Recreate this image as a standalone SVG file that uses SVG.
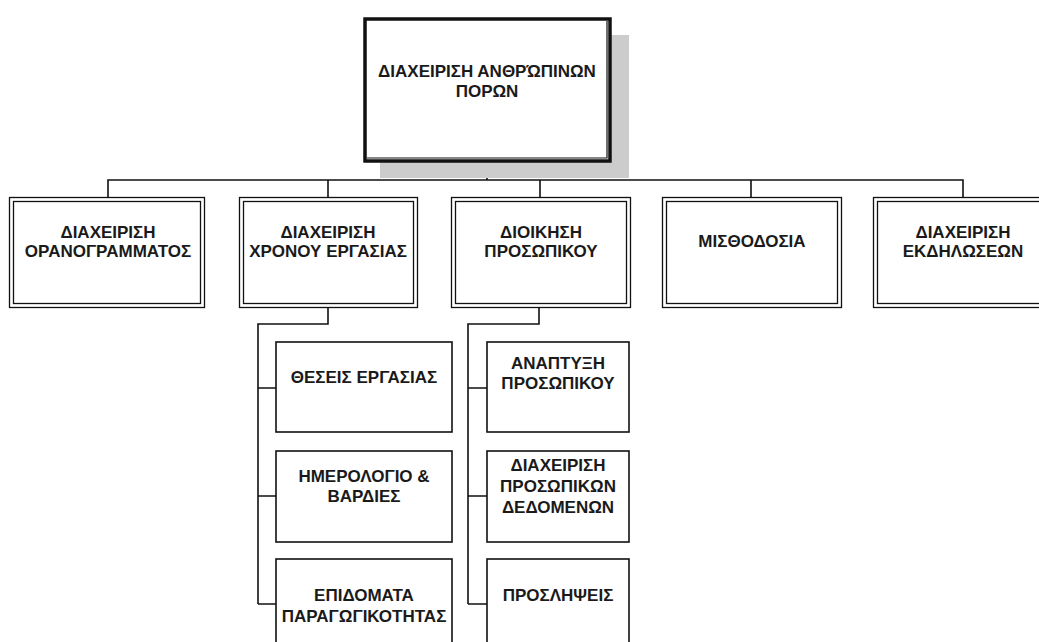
<svg xmlns="http://www.w3.org/2000/svg" width="1039" height="642" viewBox="0 0 1039 642">
<style>
.bx{fill:#fff;stroke:#111;stroke-width:1.3}
.sb{fill:#fff;stroke:#111;stroke-width:1.6}
.ln{fill:none;stroke:#111;stroke-width:1.6}
text{font-family:"Liberation Sans",Arial,sans-serif;font-size:17px;font-weight:bold;fill:#1a1a1a;text-anchor:middle}
</style>
<rect width="1039" height="642" fill="#fff"/>
<g id="connectors">
<path class="ln" d="M487,163 V180 M108,197 V180 H963 V197 M328,180 V197 M540,180 V197 M751,180 V197"/>
<path class="ln" d="M328,308 V324 H258 V604 M258,388 H276 M258,496 H276 M258,604 H276"/>
<path class="ln" d="M539,308 V324 H468 V604 M468,388 H487 M468,496 H487 M468,604 H487"/>
</g>
<g id="root">
<rect x="380" y="35" width="249" height="143" fill="#cccccc"/>
<rect x="365" y="19" width="245" height="142" fill="#fff" stroke="#111" stroke-width="3.5"/>
<path d="M367,158 H607 V21" fill="none" stroke="#111" stroke-width="1.2"/>
<text x="487" y="77">ΔΙΑΧΕΙΡΙΣΗ ΑΝΘΡΏΠΙΝΩΝ</text>
<text x="487" y="97">ΠΟΡΩΝ</text>
</g>
<g id="n1">
<rect class="bx" x="9.5" y="197.5" width="195" height="110"/>
<rect class="bx" x="13.5" y="201.5" width="187" height="102"/>
<text x="108" y="238">ΔΙΑΧΕΙΡΙΣΗ</text>
<text x="108" y="257">ΟΡΑΝΟΓΡΑΜΜΑΤΟΣ</text>
</g>
<g id="n2">
<rect class="bx" x="239.5" y="197.5" width="178" height="110"/>
<rect class="bx" x="243.5" y="201.5" width="170" height="102"/>
<text x="328" y="238">ΔΙΑΧΕΙΡΙΣΗ</text>
<text x="328" y="257">ΧΡΟΝΟΥ ΕΡΓΑΣΙΑΣ</text>
</g>
<g id="n3">
<rect class="bx" x="451.5" y="197.5" width="179" height="110"/>
<rect class="bx" x="455.5" y="201.5" width="171" height="102"/>
<text x="541" y="238">ΔΙΟΙΚΗΣΗ</text>
<text x="541" y="257">ΠΡΟΣΩΠΙΚΟΥ</text>
</g>
<g id="n4">
<rect class="bx" x="662.5" y="197.5" width="179" height="110"/>
<rect class="bx" x="666.5" y="201.5" width="171" height="102"/>
<text x="752" y="247">ΜΙΣΘΟΔΟΣΙΑ</text>
</g>
<g id="n5">
<rect class="bx" x="873.5" y="197.5" width="179" height="110"/>
<rect class="bx" x="877.5" y="201.5" width="171" height="102"/>
<text x="963" y="238">ΔΙΑΧΕΙΡΙΣΗ</text>
<text x="963" y="257">ΕΚΔΗΛΩΣΕΩΝ</text>
</g>
<g id="a1">
<rect class="sb" x="276" y="342" width="176" height="90"/>
<text x="364" y="383">ΘΕΣΕΙΣ ΕΡΓΑΣΙΑΣ</text>
</g>
<g id="a2">
<rect class="sb" x="276" y="451" width="176" height="91"/>
<text x="364" y="482">ΗΜΕΡΟΛΟΓΙΟ &amp;</text>
<text x="364" y="502">ΒΑΡΔΙΕΣ</text>
</g>
<g id="a3">
<rect class="sb" x="276" y="559" width="176" height="100"/>
<text x="364" y="601">ΕΠΙΔΟΜΑΤΑ</text>
<text x="364" y="622">ΠΑΡΑΓΩΓΙΚΟΤΗΤΑΣ</text>
</g>
<g id="b1">
<rect class="sb" x="487" y="342" width="142" height="90"/>
<text x="558" y="369">ΑΝΑΠΤΥΞΗ</text>
<text x="558" y="389">ΠΡΟΣΩΠΙΚΟΥ</text>
</g>
<g id="b2">
<rect class="sb" x="487" y="451" width="142" height="91"/>
<text x="558" y="471">ΔΙΑΧΕΙΡΙΣΗ</text>
<text x="558" y="492">ΠΡΟΣΩΠΙΚΩΝ</text>
<text x="558" y="513">ΔΕΔΟΜΕΝΩΝ</text>
</g>
<g id="b3">
<rect class="sb" x="487" y="559" width="142" height="100"/>
<text x="558" y="601">ΠΡΟΣΛΗΨΕΙΣ</text>
</g>
</svg>
